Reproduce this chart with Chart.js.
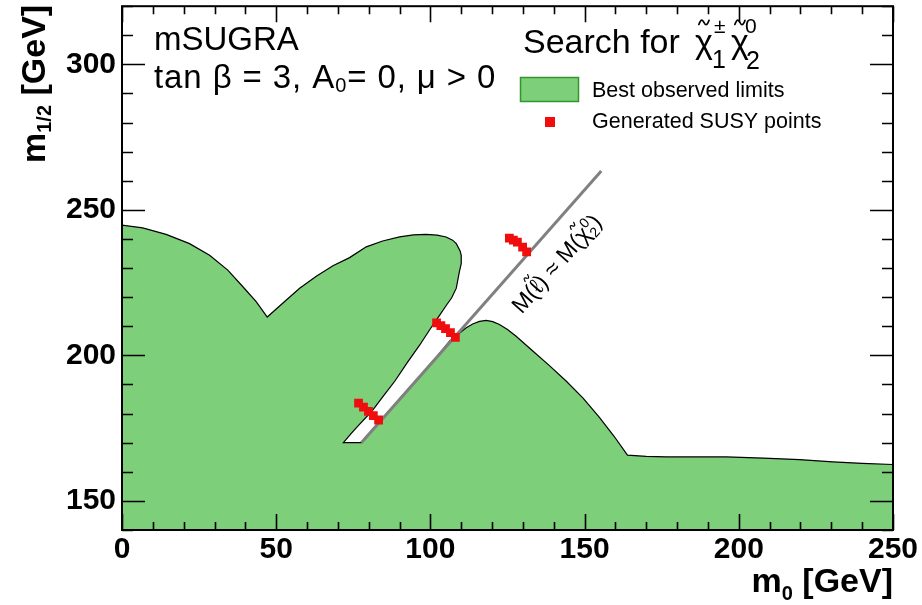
<!DOCTYPE html>
<html><head><meta charset="utf-8">
<script src="https://cdn.jsdelivr.net/npm/chart.js@4/dist/chart.umd.min.js"></script>
<style>html,body{margin:0;padding:0;background:#fff;}#wrap{width:922px;height:605px;}</style>
</head><body><div id="wrap"><canvas id="c" width="922" height="605"></canvas></div>
<script>
// ---- data ----
const xTickLabels = [0, 50, 100, 150, 200, 250];
const yTickLabels = [150, 200, 250, 300];
// boundary of the "best observed limits" region (m0, m1/2)
const regionX = [0, 0, 6.7, 14.3, 21.9, 28.4, 34.3, 39.2, 43.5, 47.1, 52.1, 57.6, 63, 68.4, 73.8, 79.2, 84.5, 90.0, 94.5, 98.6, 102.2, 105.1, 107.2, 108.4, 109.6, 110.0, 110.0, 109.4, 108.4, 106.9, 105.3, 102.8, 100.2, 96.5, 92.5, 88.5, 84.6, 81.0, 77.0, 74.2, 71.8, 77.6, 81, 86.7, 92, 97.5, 102, 106.2, 109.4, 111.5, 113.7, 115.9, 118.1, 120.2, 122.4, 125, 127.8, 133.2, 138.6, 144.0, 149.5, 154.8, 159.5, 163.9, 170, 176.5, 185, 195.9, 208, 219.7, 230.5, 240, 250, 250];
const regionY = [140, 244.8, 243.8, 241.6, 238.4, 234.4, 229.3, 223.6, 218.5, 213.2, 217.9, 223.1, 227.2, 230.8, 233.6, 237.3, 239.3, 240.7, 241.4, 241.6, 241.3, 240.7, 239.6, 238.4, 236.0, 234.4, 231.5, 228.8, 223.1, 219.8, 217.4, 213.5, 209.5, 203.5, 197.5, 191.2, 185.8, 180.8, 176.3, 173.0, 170.0, 170.0, 174.2, 181.0, 187.5, 194.1, 199.5, 204.9, 207.6, 209.4, 210.8, 211.7, 212.0, 211.6, 210.6, 208.9, 206.6, 201.5, 196.5, 191.2, 185.3, 178.7, 172.3, 165.7, 165.3, 165.1, 165.1, 165.1, 164.7, 164.2, 163.4, 162.9, 162.5, 140];
// generated SUSY points
const susyX = [125.6, 126.9, 128.2, 129.9, 131.2, 102.0, 103.4, 104.9, 106.5, 108.1, 76.7, 78.3, 79.9, 81.5, 83.2];
const susyY = [240.3, 239.6, 238.9, 237.2, 235.6, 211.2, 210.2, 209.2, 207.8, 206.2, 183.6, 182.2, 180.8, 179.3, 177.8];
// M(slepton) = M(chi2) line
const diagX = [77.6, 155.4];
const diagY = [170.0, 263.4];
const labelAnchor = [129.6, 214.0];

const FONT = "'Liberation Sans', Arial, Helvetica, sans-serif";
const GREEN = 'rgb(125,207,121)';
const zip = (xs, ys) => xs.map((v, i) => ({x: v, y: ys[i]}));

function drawTilde(ctx, cx, cy, w, h, lw) {
  ctx.save();
  ctx.lineWidth = lw;
  ctx.strokeStyle = ctx.fillStyle;
  ctx.lineCap = 'round';
  ctx.beginPath();
  ctx.moveTo(cx - w / 2, cy + h / 2);
  ctx.bezierCurveTo(cx - w / 4, cy - h * 1.1, cx - w / 8, cy - h * 0.6, cx, cy);
  ctx.bezierCurveTo(cx + w / 8, cy + h * 0.6, cx + w / 4, cy + h * 1.1, cx + w / 2, cy - h / 2);
  ctx.stroke();
  ctx.restore();
}

function rich(ctx, x, y, items) {
  let cx = x;
  for (const it of items) {
    ctx.font = (it.b ? 'bold ' : '') + it.f + 'px ' + FONT;
    const w = ctx.measureText(it.t).width;
    ctx.fillText(it.t, cx, y + (it.dy || 0));
    if (it.tilde) {
      drawTilde(ctx, cx + w / 2, y + (it.dy || 0) - it.f * 0.9, it.f * 0.3, it.f * 0.12, Math.max(1.2, it.f * 0.05));
    }
    if (!it.noAdv) cx += w + (it.gap || 0);
  }
  return cx - x;
}
function richWidth(ctx, items) {
  let w = 0;
  for (const it of items) {
    ctx.font = (it.b ? 'bold ' : '') + it.f + 'px ' + FONT;
    if (!it.noAdv) w += ctx.measureText(it.t).width + (it.gap || 0);
  }
  return w;
}

const decor = {
  id: 'decor',
  afterDatasetsDraw(chart) {
    const {ctx, chartArea: a, scales: {x, y}} = chart;
    ctx.save();
    ctx.strokeStyle = '#000';
    ctx.lineWidth = 1.6;
    ctx.beginPath();
    for (let v = x.min; v <= x.max + 1e-6; v += 10) {
      const px = Math.round(x.getPixelForValue(v)) + 0.5;
      const len = v % 50 === 0 ? 16 : 8;
      ctx.moveTo(px, a.bottom); ctx.lineTo(px, a.bottom - len);
      ctx.moveTo(px, a.top); ctx.lineTo(px, a.top + len);
    }
    for (let v = y.min; v <= y.max + 1e-6; v += 10) {
      const py = Math.round(y.getPixelForValue(v)) + 0.5;
      const len = v % 50 === 0 ? 23 : 11;
      ctx.moveTo(a.left, py); ctx.lineTo(a.left + len, py);
      ctx.moveTo(a.right, py); ctx.lineTo(a.right - len, py);
    }
    ctx.stroke();
    ctx.lineWidth = 2;
    ctx.strokeRect(a.left, a.top, a.right - a.left, a.bottom - a.top);
    ctx.restore();
  },
  afterDraw(chart) {
    const {ctx, scales: {x, y}} = chart;
    ctx.save();
    ctx.fillStyle = '#000';
    ctx.textBaseline = 'alphabetic';
    ctx.textAlign = 'left';
    // y title
    ctx.save();
    ctx.translate(45, 163);
    ctx.rotate(-Math.PI / 2);
    rich(ctx, 0, 0, [{t: 'm', f: 34, b: 1}, {t: '1/2', f: 20, b: 1, dy: 6}, {t: ' [GeV]', f: 34, b: 1}]);
    ctx.restore();
    // x title
    const xt = [{t: 'm', f: 34, b: 1}, {t: '0', f: 20, b: 1, dy: 8}, {t: ' [GeV]', f: 34, b: 1}];
    rich(ctx, 893 - richWidth(ctx, xt), 592, xt);
    // model text
    rich(ctx, 154, 50, [{t: 'mSUGRA', f: 33}]);
    ctx.letterSpacing = '0.9px';
    rich(ctx, 154, 88, [{t: 'tan β = 3, A', f: 33}, {t: '0', f: 20, dy: 4}, {t: '= 0, μ > 0', f: 33}]);
    ctx.letterSpacing = '0px';
    // legend header
    rich(ctx, 523, 53, [{t: 'Search for', f: 34}]);
    rich(ctx, 695, 53, [{t: 'χ', f: 34, tilde: 1}]);
    rich(ctx, 714, 33, [{t: '±', f: 21}]);
    rich(ctx, 712, 68, [{t: '1', f: 25}]);
    rich(ctx, 731, 53, [{t: 'χ', f: 34, tilde: 1}]);
    rich(ctx, 745, 33, [{t: '0', f: 21}]);
    rich(ctx, 746, 69, [{t: '2', f: 25}]);
    // legend entries
    ctx.fillStyle = GREEN;
    ctx.fillRect(520, 77, 59, 25);
    ctx.strokeStyle = 'rgb(50,150,45)';
    ctx.lineWidth = 1.5;
    ctx.strokeRect(520.5, 77.5, 58, 24);
    ctx.fillStyle = '#f00d0d';
    ctx.fillRect(545, 117, 10, 10);
    ctx.fillStyle = '#000';
    rich(ctx, 592, 97, [{t: 'Best observed limits', f: 21.5}]);
    rich(ctx, 592, 128, [{t: 'Generated SUSY points', f: 21.5}]);
    // line label
    const p1x = x.getPixelForValue(diagX[0]), p1y = y.getPixelForValue(diagY[0]);
    const p2x = x.getPixelForValue(diagX[1]), p2y = y.getPixelForValue(diagY[1]);
    const ang = Math.atan2(p2y - p1y, p2x - p1x);
    ctx.save();
    ctx.translate(x.getPixelForValue(labelAnchor[0]), y.getPixelForValue(labelAnchor[1]));
    ctx.rotate(ang);
    const w1 = rich(ctx, 0, 0, [{t: 'M(', f: 23}, {t: 'ℓ', f: 23, tilde: 1}, {t: ') ≈ M(', f: 23}, {t: 'χ', f: 23, tilde: 1}]);
    rich(ctx, w1, -9, [{t: '0', f: 14}]);
    const w2 = rich(ctx, w1, 5, [{t: '2', f: 14}]);
    rich(ctx, w1 + w2 + 1, 0, [{t: ')', f: 23}]);
    ctx.restore();
    ctx.restore();
  }
};

new Chart(document.getElementById('c'), {
  type: 'line',
  data: {
    datasets: [
      {label: 'Generated SUSY points', data: zip(susyX, susyY), showLine: false, pointStyle: 'rect',
       pointRadius: 6.2, pointBorderWidth: 0, backgroundColor: '#f00d0d', borderColor: '#f00d0d', order: 0},
      {label: 'M(slepton) = M(chi2)', data: zip(diagX, diagY), borderColor: 'rgb(128,128,128)', borderWidth: 3,
       pointRadius: 0, fill: false, order: 1},
      {label: 'Best observed limits', data: zip(regionX, regionY), borderColor: '#000', borderWidth: 1.2,
       backgroundColor: GREEN, fill: 'shape', pointRadius: 0, tension: 0, order: 2}
    ]
  },
  options: {
    responsive: false, animation: false, devicePixelRatio: 1,
    layout: {padding: {left: 0, top: 2, right: 29, bottom: 0}},
    plugins: {legend: {display: false}, tooltip: {enabled: false}},
    scales: {
      x: {type: 'linear', min: 0, max: 250,
          afterBuildTicks: s => { s.ticks = xTickLabels.map(v => ({value: v})); },
          afterFit: s => { s.height = 75; s.paddingLeft = 0; s.paddingRight = 0; },
          grid: {display: false, drawTicks: false}, border: {display: false},
          ticks: {color: '#000', padding: 2, maxRotation: 0, autoSkip: false,
                  font: {family: FONT, size: 30, weight: 'bold'}}},
      y: {type: 'linear', min: 140, max: 320,
          afterBuildTicks: s => { s.ticks = yTickLabels.map(v => ({value: v})); },
          afterFit: s => { s.width = 122; s.paddingTop = 0; s.paddingBottom = 0; },
          grid: {display: false, drawTicks: false}, border: {display: false},
          ticks: {color: '#000', padding: 6, autoSkip: false,
                  font: {family: FONT, size: 30, weight: 'bold'}}}
    }
  },
  plugins: [decor]
});
</script>
</body></html>
